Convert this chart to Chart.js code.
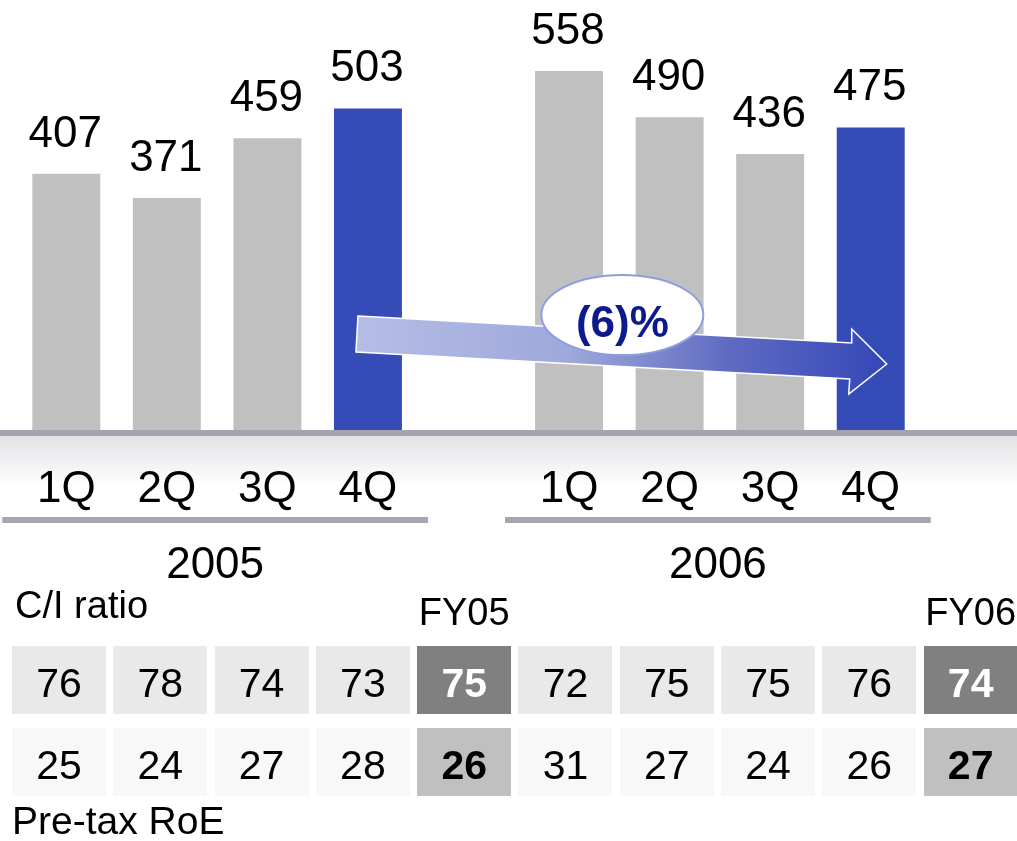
<!DOCTYPE html>
<html>
<head>
<meta charset="utf-8">
<title>Quarterly results 2005-2006</title>
<script src="https://cdn.jsdelivr.net/npm/chart.js@4.4.1/dist/chart.umd.min.js"></script>
<style>
  html, body { margin: 0; padding: 0; background: #fff; }
  body { font-family: "Liberation Sans", Arial, sans-serif; color: #000; }
  #wrap { position: relative; width: 1017px; height: 841px; overflow: hidden; }
  #chart { position: absolute; left: 0; top: 0; }
  .lbl { position: absolute; font-size: 38px; line-height: 38px; white-space: nowrap; }
  #table { position: absolute; left: 12px; top: 646px; display: grid;
           grid-template-columns: repeat(10, 94px); grid-auto-rows: 68px;
           column-gap: 7.3px; row-gap: 14px; }
  .cell { font-size: 41px; line-height: 74px; height: 68px; text-align: center; overflow: visible; }
  .r1 { background: #e9e9e9; }
  .r2 { background: #f8f8f8; }
  .r1.fy { background: #808080; color: #fff; font-weight: bold; }
  .r2.fy { background: #c0c0c0; font-weight: bold; }
</style>
</head>
<body>
<div id="wrap">
  <canvas id="chart" width="1017" height="841"></canvas>
  <div class="lbl" style="left:15px; top:586px;">C/I ratio</div>
  <div class="lbl" id="fy05" style="top:593px;"></div>
  <div class="lbl" id="fy06" style="top:593px;"></div>
  <div id="table"></div>
  <div class="lbl" style="left:12px; top:802px; font-size:39px;">Pre-tax RoE</div>
</div>

<script>
/* ── DATA ───────────────────────────────────────────────────────── */
const QUARTERS = ['1Q', '2Q', '3Q', '4Q', '', '1Q', '2Q', '3Q', '4Q'];   // '' = gap between years
const YEARS    = ['2005', '2006'];
const PROFIT   = [407, 371, 459, 503, null, 558, 490, 436, 475];
const HIGHLIGHT = [false, false, false, true, false, false, false, false, true];
const CHANGE_LABEL = '(6)%';

const TABLE_COLS = ['1Q05', '2Q05', '3Q05', '4Q05', 'FY05', '1Q06', '2Q06', '3Q06', '4Q06', 'FY06'];
const CI_RATIO   = [76, 78, 74, 73, 75, 72, 75, 75, 76, 74];
const PRETAX_ROE = [25, 24, 27, 28, 26, 31, 27, 24, 26, 27];

const GREY = '#c0c0c0';
const BLUE = '#344bb8';
const FONT = '"Liberation Sans", Arial, sans-serif';

/* ── TABLE BELOW THE CHART ──────────────────────────────────────── */
(function buildTable() {
  const table = document.getElementById('table');
  const rows = [['r1', CI_RATIO], ['r2', PRETAX_ROE]];
  table.innerHTML = rows.map(([cls, vals]) => vals.map((v, i) => {
    const fy = TABLE_COLS[i].startsWith('FY') ? ' fy' : '';
    return `<div class="cell ${cls}${fy}">${v}</div>`;
  }).join('')).join('');

  // FY headers sit centred over their column
  const step = 94 + 7.3;
  ['FY05', 'FY06'].forEach(name => {
    const i = TABLE_COLS.indexOf(name);
    const el = document.getElementById(name.toLowerCase());
    el.textContent = name;
    el.style.left = (12 + i * step + 47) + 'px';
    el.style.transform = 'translateX(-50%)';
  });
})();

/* ── PLUGIN: axis band, labels, arrow ───────────────────────────── */
const decorPlugin = {
  id: 'decor',
  afterDatasetsDraw(chart) {
    const { ctx, scales: { x, y } } = chart;
    const base = y.getPixelForValue(0);

    // value labels above bars
    const meta = chart.getDatasetMeta(0);
    ctx.save();
    ctx.fillStyle = '#000';
    ctx.font = `44px ${FONT}`;
    ctx.textAlign = 'center';
    ctx.textBaseline = 'alphabetic';
    meta.data.forEach((bar, i) => {
      if (PROFIT[i] == null) return;
      ctx.fillText(String(PROFIT[i]), bar.x - 1, bar.y - 27);
    });

    // axis band + soft shade under it (covers the foot of the bars)
    const axisTop = base - 20;
    const shade = ctx.createLinearGradient(0, axisTop + 6, 0, axisTop + 56);
    shade.addColorStop(0, '#e3e3e6');
    shade.addColorStop(1, '#ffffff');
    ctx.fillStyle = shade;
    ctx.fillRect(0, axisTop + 6, chart.width, 50);
    ctx.fillStyle = '#a4a3af';
    ctx.fillRect(0, axisTop, chart.width, 6);

    // quarter tick labels
    ctx.fillStyle = '#000';
    ctx.font = `44px ${FONT}`;
    QUARTERS.forEach((q, i) => {
      if (q) ctx.fillText(q, x.getPixelForValue(i), axisTop + 72);
    });

    // year underline + year label
    YEARS.forEach((yr, k) => {
      const first = k * 5, last = first + 3;
      const l = x.getPixelForValue(first) - 64;
      const r = x.getPixelForValue(last) + 60;
      ctx.fillStyle = '#a6a5b0';
      ctx.fillRect(l, axisTop + 87, r - l, 6);
      ctx.fillStyle = '#000';
      ctx.fillText(yr, (l + r) / 2, axisTop + 148);
    });

    // trend arrow from 4Q05 to 4Q06
    const x0 = x.getPixelForValue(3) - 10;
    const tip = x.getPixelForValue(8) + 16;
    const xh = tip - 35;
    const slope = 27 / (xh - x0);
    const yTop0 = base - 134;
    const yTopH = yTop0 + slope * (xh - x0);
    const thick = 36;
    const grad = ctx.createLinearGradient(x0, 0, tip, 0);
    grad.addColorStop(0, '#b5bde7');
    grad.addColorStop(0.4, '#9ea8da');
    grad.addColorStop(0.7, '#5f6bc2');
    grad.addColorStop(1, '#3447b8');
    ctx.beginPath();
    ctx.moveTo(x0, yTop0);
    ctx.lineTo(xh, yTopH);
    ctx.lineTo(xh, yTopH - 14);
    ctx.lineTo(tip, yTopH + thick / 2 + 3);
    ctx.lineTo(xh - 3, yTopH + thick + 15);
    ctx.lineTo(xh - 2, yTopH + thick);
    ctx.lineTo(x0 - 2, yTop0 + thick);
    ctx.closePath();
    ctx.fillStyle = grad;
    ctx.fill();
    ctx.strokeStyle = '#ffffff';
    ctx.lineWidth = 1.5;
    ctx.stroke();

    // ellipse callout
    const cx = (x.getPixelForValue(5) + x.getPixelForValue(6)) / 2 + 3;
    const cy = base - 135;
    ctx.beginPath();
    ctx.ellipse(cx, cy, 81, 40, 0, 0, Math.PI * 2);
    ctx.fillStyle = '#ffffff';
    ctx.fill();
    ctx.strokeStyle = '#8d9de0';
    ctx.lineWidth = 2;
    ctx.stroke();
    ctx.fillStyle = '#0b1a8e';
    ctx.font = `bold 44px ${FONT}`;
    ctx.fillText(CHANGE_LABEL, cx, cy + 22);
    ctx.restore();
  }
};

/* ── BAR CHART ──────────────────────────────────────────────────── */
new Chart(document.getElementById('chart'), {
  type: 'bar',
  data: {
    labels: QUARTERS,
    datasets: [{
      data: PROFIT,
      backgroundColor: HIGHLIGHT.map(h => h ? BLUE : GREY),
      borderWidth: 0,
      barPercentage: 0.676,
      categoryPercentage: 1,
    }]
  },
  options: {
    responsive: false,
    animation: false,
    layout: { padding: { left: 16, right: 96, top: 42.6, bottom: 391 } },
    plugins: { legend: { display: false }, tooltip: { enabled: false } },
    scales: {
      x: { display: false },
      y: { display: false, min: 0, max: 600 }
    }
  },
  plugins: [decorPlugin]
});
</script>
</body>
</html>
